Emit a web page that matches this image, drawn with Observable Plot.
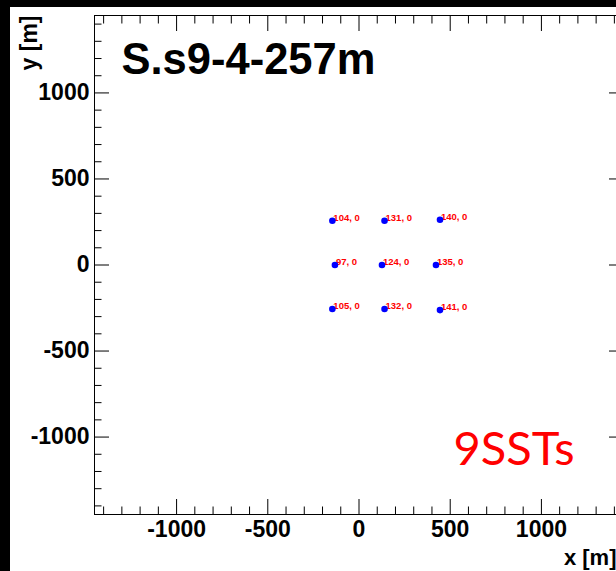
<!DOCTYPE html>
<html><head><meta charset="utf-8">
<script src="https://cdn.jsdelivr.net/npm/d3@7"></script>
<script src="https://cdn.jsdelivr.net/npm/@observablehq/plot@0.6"></script>
<style>
html,body{margin:0;padding:0;background:#000;overflow:hidden;width:616px;height:571px;}
#paper{position:absolute;left:10px;top:7px;width:700px;height:600px;background:#fff;}
#chart{position:absolute;left:0;top:0;}
</style></head><body>
<div id="paper"></div><div id="chart"></div>
<script>
// telescope ids and positions (m)
const ids = [104, 131, 140, 97, 124, 135, 105, 132, 141];
const xs = [-146, 140, 444, -132, 126, 422, -146, 140, 444];
const ys = [257, 257, 263, 0, 0, 0, -256, -256, -262];
const zs = [0, 0, 0, 0, 0, 0, 0, 0, 0];
// axis ticks
const majorTicks = [-1000, -500, 0, 500, 1000];
const majorLabels = ["-1000", "-500", "0", "500", "1000"];
const minorTicks = [-1400, -1300, -1200, -1100, -900, -800, -700, -600, -400, -300, -200, -100,
  100, 200, 300, 400, 600, 700, 800, 900, 1100, 1200, 1300, 1400];
const title = "S.s9-4-257m";
const note = "9SSTs";
const xTitle = "x [m]";
const yTitle = "y [m]";

const data = ids.map((id, i) => ({id, x: xs[i], y: ys[i], label: `${id}, ${zs[i]}`}));
const blank = () => "";
const lab = d => majorLabels[majorTicks.indexOf(d)];
const font = "'Liberation Sans', Arial, Helvetica, sans-serif";
const tickFont = {fontSize: 23, fontWeight: "bold"};

const plot = Plot.plot({
  width: 640, height: 571,
  marginLeft: 94, marginRight: 17, marginTop: 15, marginBottom: 57,
  x: {domain: [-1450, 1450]},
  y: {domain: [-1450, 1450]},
  style: {background: "transparent", maxWidth: "none", overflow: "visible", fontFamily: font, color: "black"},
  marks: [
    // inward ticks on all four sides
    Plot.axisX({anchor: "bottom", ticks: majorTicks, tickSize: -15, tickFormat: blank, label: null}),
    Plot.axisX({anchor: "bottom", ticks: minorTicks, tickSize: -7.5, tickFormat: blank, label: null}),
    Plot.axisX({anchor: "top", ticks: majorTicks, tickSize: -15, tickFormat: blank, label: null}),
    Plot.axisX({anchor: "top", ticks: minorTicks, tickSize: -7.5, tickFormat: blank, label: null}),
    Plot.axisY({anchor: "left", ticks: majorTicks, tickSize: -15, tickFormat: blank, label: null}),
    Plot.axisY({anchor: "left", ticks: minorTicks, tickSize: -7.5, tickFormat: blank, label: null}),
    Plot.axisY({anchor: "right", ticks: majorTicks, tickSize: -15, tickFormat: blank, label: null}),
    Plot.axisY({anchor: "right", ticks: minorTicks, tickSize: -7.5, tickFormat: blank, label: null}),
    // tick labels
    Plot.axisX({anchor: "bottom", ticks: majorTicks, tickSize: 0, tickPadding: 6, tickFormat: lab, label: null, ...tickFont}),
    Plot.axisY({anchor: "left", ticks: majorTicks, tickSize: 0, tickPadding: 5, tickFormat: lab, label: null, ...tickFont}),
    Plot.frame({stroke: "black"}),
    // axis titles
    Plot.text([xTitle], {frameAnchor: "bottom-right", text: d => d, textAnchor: "end", lineAnchor: "bottom", dx: -7, dy: 50, fontSize: 22, fontWeight: "bold"}),
    Plot.text([yTitle], {frameAnchor: "top-left", text: d => d, textAnchor: "end", lineAnchor: "middle", rotate: -90, dx: -65, dy: 0, fontSize: 23, fontWeight: "bold"}),
    // title and note
    Plot.text([title], {frameAnchor: "top-left", text: d => d, textAnchor: "start", lineAnchor: "bottom", dx: 27, dy: 58, fontSize: 43.5, fontWeight: "bold"}),
    Plot.text([note], {frameAnchor: "bottom-left", text: d => d, textAnchor: "start", lineAnchor: "bottom", dx: 359, dy: -49.5, fontSize: 47, fill: "red", fontFamily: "Lato, 'Open Sans', sans-serif"}),
    // telescope labels and markers
    Plot.text(data, {x: "x", y: "y", text: "label", fill: "red", fontSize: 9.5, fontWeight: "bold", textAnchor: "start", lineAnchor: "bottom", dx: 1}),
    Plot.dot(data, {x: "x", y: "y", r: 3.3, fill: "blue"})
  ]
});
document.getElementById("chart").appendChild(plot);
</script>
</body></html>
